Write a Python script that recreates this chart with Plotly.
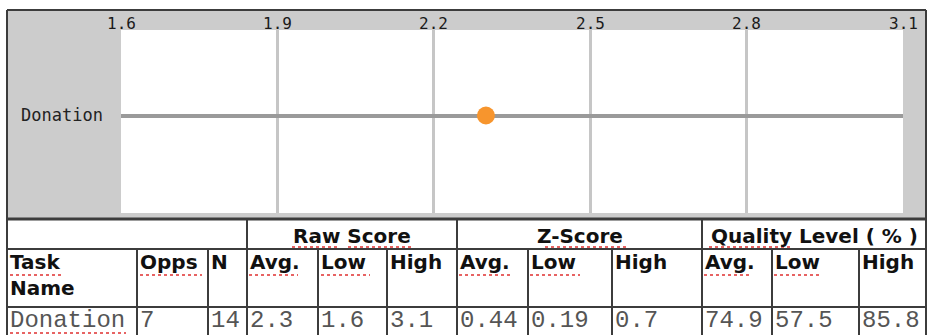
import plotly.graph_objects as go

# ---- data -------------------------------------------------------------
task_names = ["Donation"]
opps = [7]
n_vals = [14]
raw_avg = [2.3]
raw_low = [1.6]
raw_high = [3.1]
z_avg = [0.44]
z_low = [0.19]
z_high = [0.7]
q_avg = [74.9]
q_low = [57.5]
q_high = [85.8]
tick_vals = [1.6, 1.9, 2.2, 2.5, 2.8, 3.1]

group_headers = ["", "Raw Score", "Z-Score", "Quality Level ( % )"]
col_headers = ["Task<br>Name", "Opps", "N", "Avg.", "Low", "High",
               "Avg.", "Low", "High", "Avg.", "Low", "High"]

# ---- page geometry (pixels) ------------------------------------------
W, H = 931, 335
FRAME_L, FRAME_R, FRAME_T = 7, 926, 10
PLOT_L, PLOT_R, PLOT_T, PLOT_B = 121, 903, 30, 213
TABLE_T, ROW1_B, ROW2_B = 219, 249, 307
col_edges = [7, 137, 208, 247, 318, 387, 457, 528, 612, 702, 772, 859, 926]
group_edges = [7, 247, 457, 702, 926]

GRAY = "#cccccc"
LINE = "#3c3c3c"


def px(x):
    return x / W


def py(y):
    return 1 - y / H


fig = go.Figure()

fig.add_trace(go.Scatter(
    x=raw_avg, y=task_names, mode="markers",
    marker=dict(size=18, color="#f7952d", line=dict(width=0)),
    hoverinfo="x+y", showlegend=False,
))

shapes = []
# gray chart frame, with white plotting panel on top of it
shapes.append(dict(type="rect", xref="paper", yref="paper", layer="below",
                   x0=px(FRAME_L), x1=px(FRAME_R), y0=py(TABLE_T), y1=py(FRAME_T),
                   fillcolor=GRAY, line=dict(width=0)))
shapes.append(dict(type="rect", xref="paper", yref="paper", layer="below",
                   x0=px(PLOT_L), x1=px(PLOT_R), y0=py(PLOT_B), y1=py(PLOT_T),
                   fillcolor="white", line=dict(width=0)))


def hline(y, x0, x1, w=2):
    shapes.append(dict(type="line", xref="paper", yref="paper",
                       x0=px(x0), x1=px(x1), y0=py(y), y1=py(y),
                       line=dict(color=LINE, width=w)))


def vline(x, y0, y1, w=2):
    shapes.append(dict(type="line", xref="paper", yref="paper",
                       x0=px(x), x1=px(x), y0=py(y0), y1=py(y1),
                       line=dict(color=LINE, width=w)))


# outer border
hline(FRAME_T, FRAME_L, FRAME_R, 2)
vline(FRAME_L, FRAME_T, H, 2)
vline(FRAME_R, FRAME_T, H, 2)
# table rules
hline(TABLE_T, FRAME_L, FRAME_R, 3)
hline(ROW1_B, FRAME_L, FRAME_R, 2)
hline(ROW2_B, FRAME_L, FRAME_R, 2)
for gx in group_edges[1:-1]:
    vline(gx, TABLE_T, ROW1_B)
for cx in col_edges[1:-1]:
    vline(cx, ROW1_B, H)

annotations = []
HEAD_FONT = dict(family="DejaVu Sans", size=20, color="#111111")
CELL_FONT = dict(family="Liberation Mono", size=24, color="#555555")
AXIS_FONT = dict(family="DejaVu Sans Mono", size=16, color="#1a1a1a")

# x tick labels, sitting just above the plotting panel
for t in tick_vals:
    annotations.append(dict(xref="x", yref="paper", x=t, y=py(24),
                            text=f"{t:.1f}", showarrow=False,
                            xanchor="center", yanchor="middle", font=AXIS_FONT))

# group header row
for i, label in enumerate(group_headers):
    if not label:
        continue
    cx = (group_edges[i] + group_edges[i + 1]) / 2
    annotations.append(dict(xref="paper", yref="paper", x=px(cx), y=py(236),
                            text=f"<b>{label}</b>", showarrow=False,
                            xanchor="center", yanchor="middle", font=HEAD_FONT))

# column header row
for i, label in enumerate(col_headers):
    annotations.append(dict(xref="paper", yref="paper", x=px(col_edges[i] + 1), y=py(248),
                            text=f"<b>{label}</b>", showarrow=False, align="left",
                            xanchor="left", yanchor="top", font=HEAD_FONT))

# data row
row_values = [task_names[0], opps[0], n_vals[0], raw_avg[0], raw_low[0], raw_high[0],
              z_avg[0], z_low[0], z_high[0], q_avg[0], q_low[0], q_high[0]]
for i, v in enumerate(row_values):
    annotations.append(dict(xref="paper", yref="paper", x=px(col_edges[i] + 1), y=py(320),
                            text=str(v), showarrow=False,
                            xanchor="left", yanchor="middle", font=CELL_FONT))

# red spell-check squiggles under flagged words
squiggles = [(292, 340, 247), (348, 414, 247), (545, 626, 247), (709, 792, 247),
             (10, 64, 275), (140, 202, 275), (249, 298, 275), (321, 370, 275),
             (459, 510, 275), (530, 580, 275), (704, 750, 275), (774, 822, 275),
             (10, 126, 333)]
for x0, x1, y in squiggles:
    shapes.append(dict(type="line", xref="paper", yref="paper",
                       x0=px(x0), x1=px(x1), y0=py(y), y1=py(y),
                       line=dict(color="#e03030", width=1.5, dash="dot")))

fig.update_layout(
    width=W, height=H,
    margin=dict(l=0, r=0, t=0, b=0, pad=0),
    paper_bgcolor="white",
    plot_bgcolor="rgba(0,0,0,0)",
    shapes=shapes,
    annotations=annotations,
    xaxis=dict(
        domain=[px(PLOT_L), px(PLOT_R)],
        range=[tick_vals[0], tick_vals[-1]],
        automargin=False,
        tickmode="array", tickvals=tick_vals, showticklabels=False,
        showgrid=True, gridcolor="#c6c6c6", gridwidth=3,
        zeroline=False, showline=False, ticks="",
    ),
    yaxis=dict(
        domain=[py(PLOT_B), py(PLOT_T)],
        type="category",
        range=[-1.14, 1],
        automargin=False,
        tickfont=dict(family="DejaVu Sans Mono", size=17, color="#222222"),
        ticklabelstandoff=17,
        showgrid=True, gridcolor="#9a9a9a", gridwidth=4,
        zeroline=False, showline=False, ticks="",
    ),
)

fig.write_html("out.html")
